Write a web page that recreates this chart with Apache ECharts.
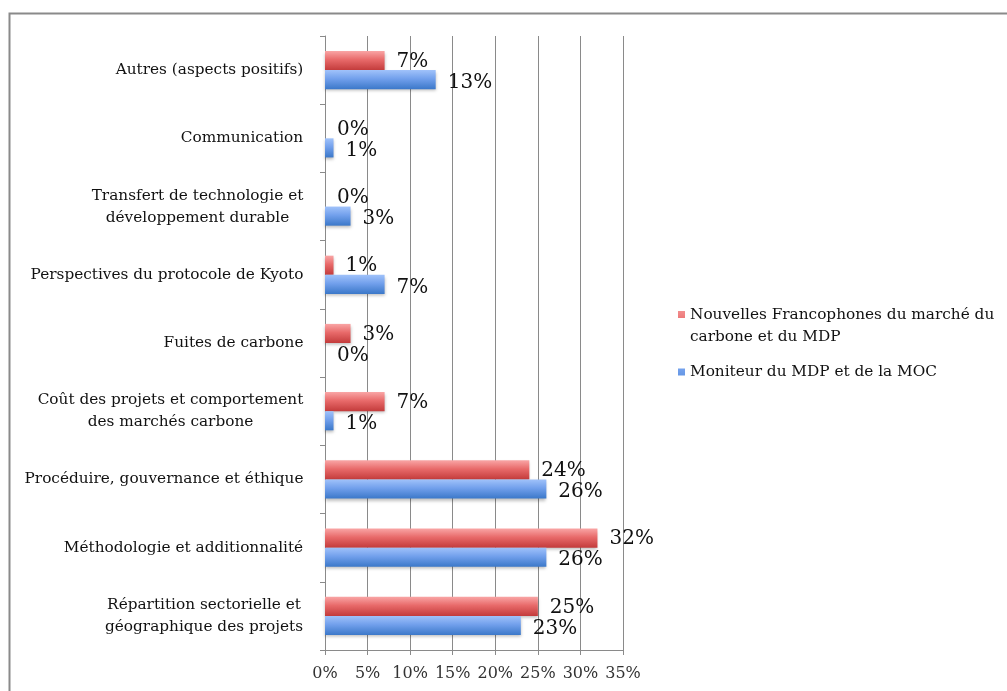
<!DOCTYPE html>
<html><head><meta charset="utf-8">
<script src="https://cdn.jsdelivr.net/npm/echarts@6/dist/echarts.min.js"></script>
<style>html,body{margin:0;padding:0;background:#fff}#c{width:1007px;height:691px}</style>
</head><body><div id="c"></div>
<script>
// Categories, bottom to top
const categories = [
  "Répartition sectorielle et\ngéographique des projets",
  "Méthodologie et additionnalité",
  "Procéduire, gouvernance et éthique",
  "Coût des projets et comportement\ndes marchés carbone",
  "Fuites de carbone",
  "Perspectives du protocole de Kyoto",
  "Transfert de technologie et\ndéveloppement durable",
  "Communication",
  "Autres (aspects positifs)"
];
const seriesNames = [
  "Nouvelles Francophones du marché du\ncarbone et du MDP",
  "Moniteur du MDP et de la MOC"
];
const redValues  = [25, 32, 24, 7, 3, 1, 0, 0, 7];
const blueValues = [23, 26, 26, 1, 0, 7, 3, 1, 13];
const xTicks = [0, 5, 10, 15, 20, 25, 30, 35];

const FONT = "DejaVu Serif";
const CAT_SIZE = 15.3;

// measure label lines so that multi-line labels are centred within a right-aligned block
const ctx = document.createElement('canvas').getContext('2d');
ctx.font = CAT_SIZE + 'px "' + FONT + '"';
const rich = {};
categories.forEach((c, i) => {
  const w = Math.max.apply(null, c.split('\n').map(s => ctx.measureText(s).width));
  rich['r' + i] = {width: Math.ceil(w) + 1, align: 'center', fontFamily: FONT, fontSize: CAT_SIZE,
    color: '#111', lineHeight: 22};
});

const chart = echarts.init(document.getElementById('c'), null, {renderer: 'canvas'});
function grad(top, mid, bot) {
  return new echarts.graphic.LinearGradient(0, 0, 0, 1, [
    {offset: 0, color: top}, {offset: 0.45, color: mid}, {offset: 1, color: bot}
  ]);
}
const labelCfg = {
  show: true, position: 'right', distance: 12, formatter: '{c}%',
  fontFamily: FONT, fontSize: 20, color: '#111'
};
chart.setOption({
  animation: false,
  textStyle: {fontFamily: FONT},
  graphic: [{
    type: 'rect', left: 7, top: 11, silent: true,
    shape: {width: 1100, height: 800},
    style: {fill: 'none', stroke: '#8a8a8a', lineWidth: 2}
  }],
  grid: {left: 325, right: 384, top: 36, bottom: 41, containLabel: false},
  xAxis: {
    type: 'value', min: xTicks[0], max: xTicks[xTicks.length - 1], interval: 5,
    axisLine: {show: true, lineStyle: {color: '#8a8a8a'}},
    axisTick: {show: true, length: 5, lineStyle: {color: '#8a8a8a'}},
    axisLabel: {formatter: '{value}%', fontFamily: FONT, fontSize: 16, color: '#333', margin: 16},
    splitLine: {show: true, lineStyle: {color: '#8a8a8a', width: 1}}
  },
  yAxis: {
    type: 'category', data: categories,
    axisLine: {show: true, lineStyle: {color: '#8a8a8a'}},
    axisTick: {show: true, length: 5, lineStyle: {color: '#8a8a8a'}},
    axisLabel: {
      margin: 21, align: 'right',
      formatter: (v, i) => '{r' + i + '|' + v + '}',
      rich: rich
    }
  },
  legend: {
    orient: 'vertical', left: 673, top: 298, itemWidth: 7, itemHeight: 46, itemGap: 0,
    textStyle: {fontFamily: FONT, fontSize: 15.3, color: '#111', lineHeight: 22},
    data: [
      {name: seriesNames[0], icon: 'path://M0,0M0,8h7v7h-7zM7,46'},
      {name: seriesNames[1], icon: 'path://M0,0M0,19.5h7v7h-7zM7,46'}
    ]
  },
  series: [
    {
      name: seriesNames[0], type: 'bar', data: redValues, barGap: '0%', barCategoryGap: '44%',
      itemStyle: {color: grad('#f9a5a5', '#e86a6a', '#c33b3b'),
        shadowColor: 'rgba(0,0,0,0.25)', shadowBlur: 3, shadowOffsetY: 2},
      label: Object.assign({}, labelCfg, {offset: [0, 1]})
    },
    {
      name: seriesNames[1], type: 'bar', data: blueValues,
      itemStyle: {color: grad('#a0c2fa', '#72a0ec', '#3b78c9'),
        shadowColor: 'rgba(0,0,0,0.25)', shadowBlur: 3, shadowOffsetY: 2},
      label: Object.assign({}, labelCfg, {offset: [0, 3]})
    }
  ]
});
</script></body></html>
